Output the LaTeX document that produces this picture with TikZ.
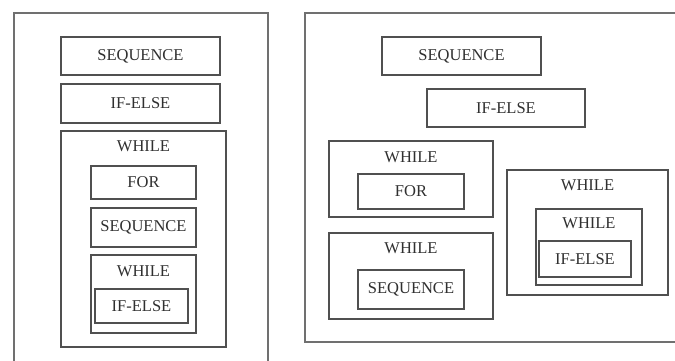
\documentclass[tikz,border=0pt]{standalone}
\usepackage{fontspec}
\setmainfont{Liberation Serif}
\definecolor{linec}{HTML}{505050}
\definecolor{outerc}{HTML}{707070}
\definecolor{textc}{HTML}{303030}
\begin{document}
\begin{tikzpicture}[x=1pt,y=-1pt,
  box/.style={draw=linec,line width=1.4pt,fill=none,inner sep=0pt,outer sep=0pt,
    text=textc,font=\fontsize{16.5}{18}\selectfont},
  outerbox/.style={draw=outerc,line width=1.8pt,inner sep=0pt,outer sep=0pt},
  lbl/.style={text=textc,font=\fontsize{16.5}{18}\selectfont,inner sep=0pt}]
\useasboundingbox[fill=white] (0,0) rectangle (675,360);
\clip (0,0) rectangle (675,360);
% left panel
\node[outerbox,minimum width=254,minimum height=357] (lout) at (141,191.5) {};
\node[box,minimum width=159,minimum height=38] (lseq) at (140.5,56) {SEQUENCE};
\node[box,minimum width=159,minimum height=39] (lif) at (140.5,103.5) {IF-ELSE};
\node[box,minimum width=165,minimum height=216] (lwh) at (143.5,239) {};
\node[lbl] (lwht) at (143.5,146) {WHILE};
\node[box,minimum width=105,minimum height=33] (lfor) at (143.5,182.5) {FOR};
\node[box,minimum width=105,minimum height=39] (lseqb) at (143.5,227.5) {SEQUENCE};
\node[box,minimum width=105,minimum height=78] (lwhb) at (143.5,294) {};
\node[lbl] (lwhbt) at (143.5,271) {WHILE};
\node[box,minimum width=93,minimum height=34] (lifb) at (141.5,306) {IF-ELSE};
% right panel
\node[outerbox,minimum width=385,minimum height=329] (rout) at (497.5,177.5) {};
\node[box,minimum width=159,minimum height=38] (rseq) at (461.5,56) {SEQUENCE};
\node[box,minimum width=158,minimum height=38] (rif) at (506,108) {IF-ELSE};
\node[box,minimum width=164,minimum height=76] (rwa) at (411,179) {};
\node[lbl] (rwat) at (411,157) {WHILE};
\node[box,minimum width=106,minimum height=35] (rfor) at (411,191.5) {FOR};
\node[box,minimum width=164,minimum height=86] (rwb) at (411,276) {};
\node[lbl] (rwbt) at (411,248) {WHILE};
\node[box,minimum width=106,minimum height=39] (rseqb) at (411,289.5) {SEQUENCE};
\node[box,minimum width=161,minimum height=125] (rwc) at (587.5,232.5) {};
\node[lbl] (rwct) at (587.5,185) {WHILE};
\node[box,minimum width=106,minimum height=76] (rwd) at (589,247) {};
\node[lbl] (rwdt) at (589,223) {WHILE};
\node[box,minimum width=92,minimum height=36] (rifb) at (585,259) {IF-ELSE};
\end{tikzpicture}
\end{document}
